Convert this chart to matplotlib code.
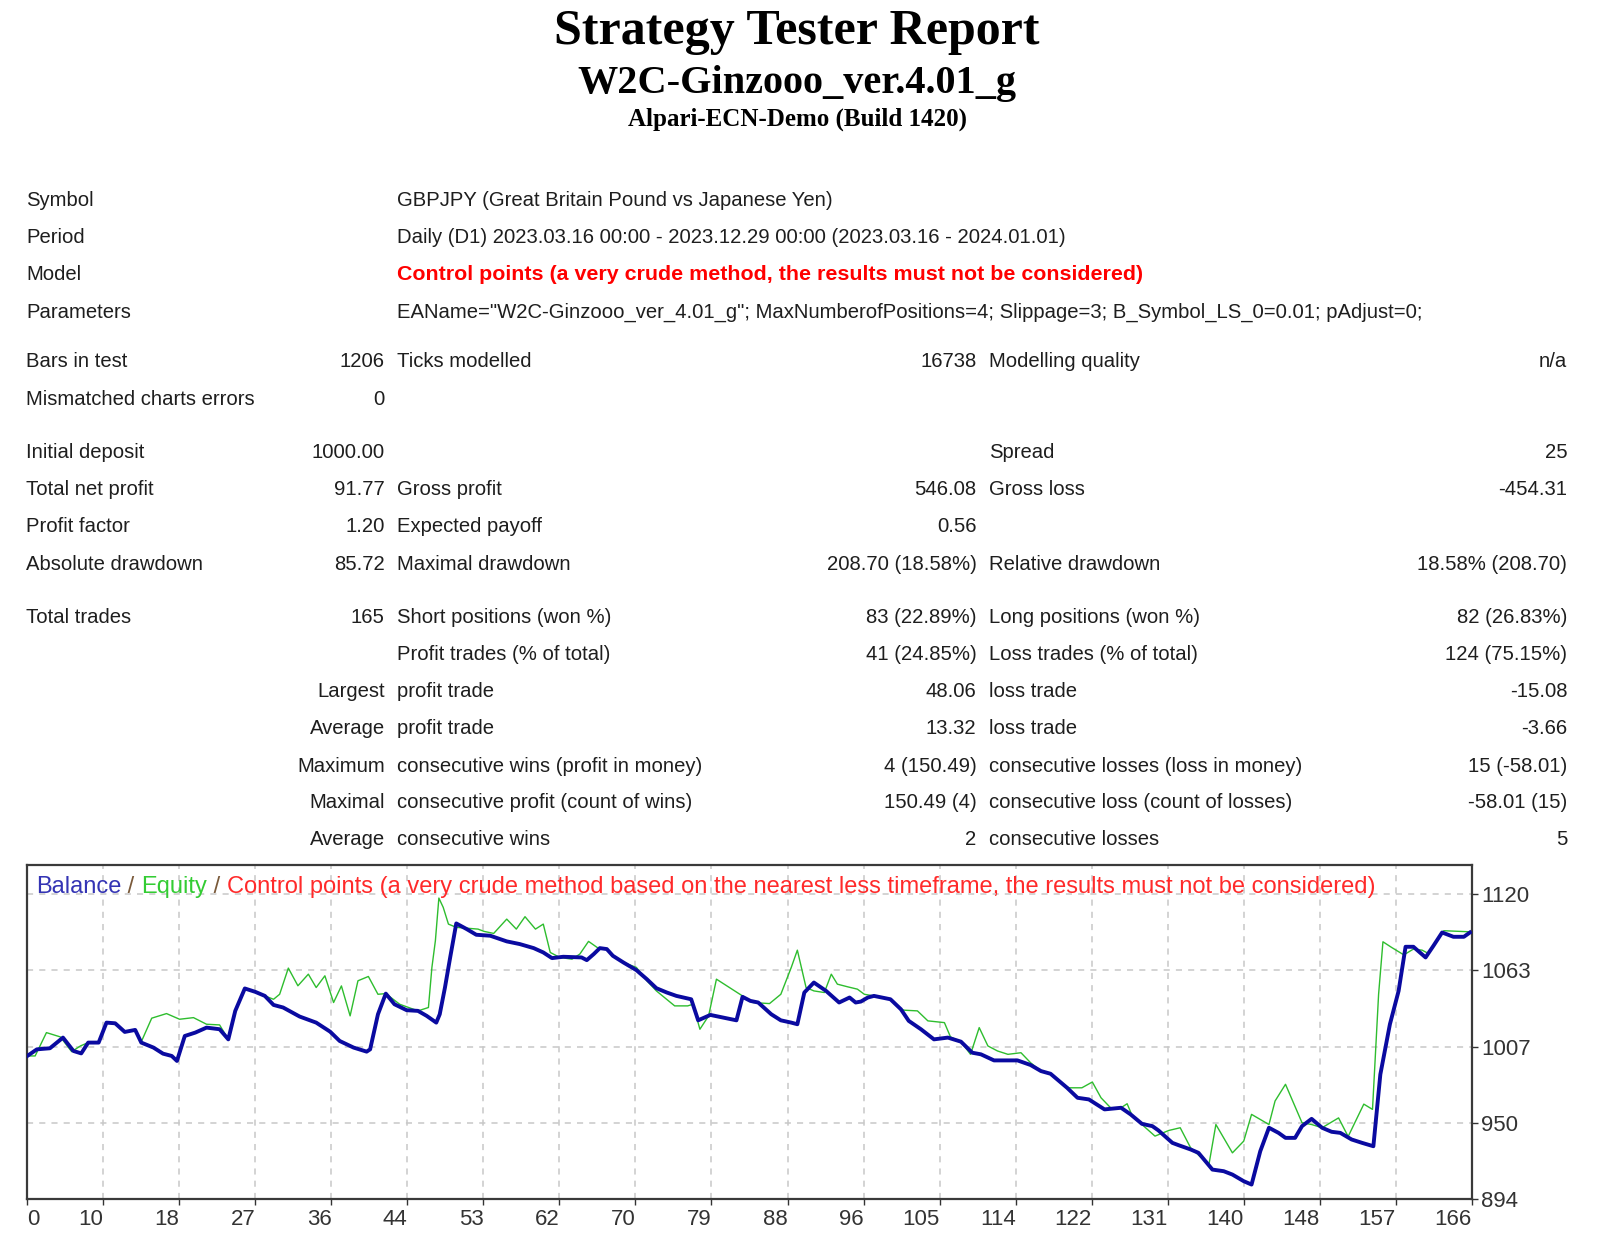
import numpy as np
import matplotlib
matplotlib.use("Agg")
import matplotlib.pyplot as plt

# --- report values -------------------------------------------------------
title_lines = ["Strategy Tester Report", "W2C-Ginzooo_ver.4.01_g", "Alpari-ECN-Demo (Build 1420)"]

info_labels = ["Symbol", "Period", "Model", "Parameters"]
info_values = [
    "GBPJPY (Great Britain Pound vs Japanese Yen)",
    "Daily (D1) 2023.03.16 00:00 - 2023.12.29 00:00 (2023.03.16 - 2024.01.01)",
    "Control points (a very crude method, the results must not be considered)",
    'EAName="W2C-Ginzooo_ver_4.01_g"; MaxNumberofPositions=4; Slippage=3; B_Symbol_LS_0=0.01; pAdjust=0;',
]

# each row: label1, value1, label2, value2, label3, value3
stat_rows = [
    ["Bars in test", "1206", "Ticks modelled", "16738", "Modelling quality", "n/a"],
    ["Mismatched charts errors", "0", "", "", "", ""],
    ["Initial deposit", "1000.00", "", "", "Spread", "25"],
    ["Total net profit", "91.77", "Gross profit", "546.08", "Gross loss", "-454.31"],
    ["Profit factor", "1.20", "Expected payoff", "0.56", "", ""],
    ["Absolute drawdown", "85.72", "Maximal drawdown", "208.70 (18.58%)", "Relative drawdown", "18.58% (208.70)"],
    ["Total trades", "165", "Short positions (won %)", "83 (22.89%)", "Long positions (won %)", "82 (26.83%)"],
    ["", "", "Profit trades (% of total)", "41 (24.85%)", "Loss trades (% of total)", "124 (75.15%)"],
    ["", "Largest", "profit trade", "48.06", "loss trade", "-15.08"],
    ["", "Average", "profit trade", "13.32", "loss trade", "-3.66"],
    ["", "Maximum", "consecutive wins (profit in money)", "4 (150.49)", "consecutive losses (loss in money)", "15 (-58.01)"],
    ["", "Maximal", "consecutive profit (count of wins)", "150.49 (4)", "consecutive loss (count of losses)", "-58.01 (15)"],
    ["", "Average", "consecutive wins", "2", "consecutive losses", "5"],
]

# --- balance / equity curves (trade number, money) -------------------------
balance_x = [0, 1.1, 2.6, 4.1, 5.3, 6.2, 7.0, 8.2, 9.1, 10.1, 11.2, 12.4, 13.1, 14.5, 15.6, 16.6, 17.2,
             18.1, 19.3, 20.6, 22.1, 23.1, 23.9, 25.0, 26.2, 27.3, 28.3, 29.4, 31.3, 33.2, 34.8, 35.9,
             37.5, 39.0, 39.4, 40.3, 41.2, 42.2, 43.6, 44.9, 45.9, 47.0, 47.4, 48.0, 48.6, 49.3, 50.5,
             51.6, 53.2, 55.1, 56.6, 58.2, 59.3, 60.3, 61.6, 63.7, 64.3, 65.1, 65.8, 66.6, 67.3, 68.5,
             70.0, 71.2, 72.3, 73.5, 74.6, 76.3, 77.1, 78.5, 80.0, 81.5, 82.2, 83.1, 84.0, 85.5, 86.6,
             87.8, 88.5, 89.3, 90.4, 91.8, 93.3, 94.5, 95.2, 95.8, 96.6, 97.3, 99.2, 100.4, 101.3, 102.7,
             104.2, 105.8, 107.3, 108.6, 109.6, 111.1, 113.8, 115.3, 116.5, 117.6, 118.8, 119.5, 120.7,
             122.0, 123.8, 125.7, 126.8, 128.1, 129.3, 130.0, 131.6, 132.3, 133.7, 134.6, 136.2, 137.5,
             138.5, 139.8, 140.7, 141.7, 142.7, 143.8, 144.6, 145.7, 146.5, 147.6, 148.8, 149.9, 150.9,
             152.2, 153.4, 154.7, 155.5, 156.6, 157.6, 158.4, 159.3, 160.7, 161.6, 162.6, 163.9, 165.1, 165.8]
balance_y = [1000.0, 1004.9, 1005.7, 1013.6, 1003.7, 1001.9, 1009.9, 1009.9, 1024.7, 1024.2, 1017.8, 1019.3,
             1009.9, 1006.2, 1001.7, 1000.0, 996.3, 1014.8, 1017.3, 1021.0, 1019.8, 1012.3, 1033.4, 1050.0,
             1047.5, 1044.5, 1037.8, 1035.9, 1029.2, 1024.7, 1018.0, 1011.1, 1006.2, 1003.2, 1004.9, 1030.9,
             1046.2, 1038.3, 1033.9, 1033.4, 1029.7, 1024.7, 1030.9, 1050.7, 1073.0, 1098.2, 1094.0, 1089.8,
             1089.1, 1084.9, 1082.9, 1079.9, 1076.7, 1072.5, 1073.5, 1073.0, 1071.0, 1075.5, 1079.9, 1079.2,
             1074.2, 1069.3, 1063.6, 1056.9, 1050.2, 1047.0, 1044.5, 1042.0, 1026.4, 1030.4, 1028.4, 1026.4,
             1043.8, 1040.8, 1039.6, 1030.9, 1026.4, 1024.7, 1023.5, 1047.0, 1054.4, 1048.2, 1039.6, 1043.3,
             1039.6, 1040.3, 1043.3, 1044.5, 1042.0, 1034.6, 1026.0, 1019.8, 1012.3, 1013.6, 1010.6, 1002.4,
             1001.2, 996.7, 996.7, 993.3, 988.8, 986.8, 980.2, 976.4, 969.0, 967.8, 960.4, 961.6, 956.7,
             949.7, 948.0, 944.8, 935.6, 933.9, 930.7, 928.2, 915.8, 914.6, 912.1, 907.2, 904.7, 929.4,
             946.8, 943.0, 939.3, 939.3, 948.0, 953.4, 946.8, 943.8, 943.0, 938.1, 935.6, 933.1, 986.3,
             1023.5, 1048.2, 1080.9, 1080.9, 1073.0, 1081.6, 1091.5, 1088.3, 1088.3, 1091.5]

equity_x = [0, 0.9, 2.2, 3.8, 5.1, 6.1, 7.0, 8.2, 9.1, 10.1, 11.2, 12.4, 13.1, 14.3, 16.0, 17.5, 19.1, 20.6,
            22.1, 23.1, 23.9, 25.0, 26.2, 27.3, 28.3, 29.0, 30.0, 31.1, 32.3, 33.2, 34.2, 35.2, 36.1, 37.1,
            38.0, 39.2, 40.3, 41.2, 42.8, 44.9, 46.1, 46.5, 46.9, 47.3, 47.8, 48.4, 49.3, 51.8, 52.5, 53.6,
            55.1, 56.2, 57.2, 58.4, 59.3, 60.1, 61.2, 62.6, 63.5, 64.5, 65.6, 66.6, 67.3, 68.5, 70.0, 71.2,
            72.3, 74.4, 75.9, 76.5, 77.3, 78.3, 79.2, 80.4, 81.9, 83.4, 85.3, 86.6, 87.8, 88.5, 89.5, 90.4,
            91.6, 92.4, 93.1, 94.3, 95.4, 96.2, 97.3, 99.2, 100.4, 100.8, 102.3, 103.5, 105.4, 106.1, 107.3,
            108.4, 109.4, 110.4, 111.5, 112.7, 114.2, 115.3, 116.5, 117.6, 118.8, 119.7, 121.2, 122.4, 123.4,
            124.5, 125.7, 126.4, 127.0, 128.1, 129.6, 131.2, 132.5, 133.7, 135.8, 136.6, 138.5, 139.8, 140.7,
            142.7, 143.4, 144.6, 146.5, 147.6, 148.8, 150.7, 151.8, 153.6, 154.6, 155.3, 155.8, 156.8, 158.2,
            159.3, 160.3, 161.0, 162.8, 165.8]
equity_y = [1000.0, 1000.0, 1017.3, 1014.1, 1003.2, 1007.4, 1009.9, 1009.9, 1024.7, 1024.2, 1017.8, 1019.3,
            1010.5, 1028.0, 1031.4, 1027.2, 1028.4, 1023.5, 1023.0, 1012.3, 1033.4, 1050.0, 1047.5, 1044.5,
            1042.0, 1045.7, 1065.1, 1052.0, 1060.6, 1050.7, 1059.4, 1039.6, 1051.9, 1029.7, 1055.7, 1058.9,
            1045.7, 1046.2, 1038.3, 1033.4, 1035.9, 1065.6, 1085.4, 1117.0, 1110.1, 1097.7, 1095.3, 1094.0,
            1092.3, 1090.8, 1101.4, 1094.0, 1103.2, 1094.0, 1097.7, 1076.7, 1073.0, 1071.7, 1075.5, 1084.9,
            1079.9, 1079.2, 1074.2, 1069.3, 1065.6, 1055.7, 1048.2, 1037.1, 1037.1, 1038.3, 1019.8, 1029.7,
            1056.9, 1051.9, 1045.7, 1039.6, 1038.8, 1045.7, 1065.6, 1078.4, 1050.7, 1048.2, 1047.0, 1060.6,
            1053.2, 1051.2, 1049.5, 1045.7, 1044.5, 1042.0, 1034.6, 1033.9, 1033.4, 1026.0, 1024.7, 1014.1,
            1010.6, 1001.2, 1021.0, 1007.4, 1003.7, 1001.2, 1002.4, 995.0, 988.8, 986.8, 980.2, 976.4, 976.4,
            980.7, 969.0, 961.6, 961.6, 964.6, 955.4, 949.2, 940.6, 944.8, 946.8, 931.9, 919.5, 949.2, 928.2,
            936.9, 956.7, 949.2, 966.6, 979.0, 950.5, 949.2, 946.8, 954.1, 940.3, 964.3, 960.4, 1045.7, 1084.6,
            1080.4, 1074.9, 1079.2, 1078.4, 1076.0, 1092.8, 1092.0]

x_tick_labels = ["0", "10", "18", "27", "36", "44", "53", "62", "70", "79", "88", "96", "105",
                 "114", "122", "131", "140", "148", "157", "166"]
y_ticks = [894, 950.5, 1007, 1063.5, 1120]
y_tick_labels = ["894", "950", "1007", "1063", "1120"]

W, H = 1600, 1243
TEXT = "#1e1e1e"
SANS = "Liberation Sans"


def fx(x):
    return x / W


def fy(y):
    return 1 - y / H


fig = plt.figure(figsize=(W / 100, H / 100), dpi=100)
fig.patch.set_facecolor("white")

# --- header --------------------------------------------------------------
fig.text(fx(797), fy(32), title_lines[0], family="Liberation Serif", weight="bold",
         fontsize=36, ha="center", va="center", color="black")
fig.text(fx(797), fy(83), title_lines[1], family="Liberation Serif", weight="bold",
         fontsize=29, ha="center", va="center", color="black")
fig.text(fx(797), fy(119), title_lines[2], family="Liberation Serif", weight="bold",
         fontsize=18, ha="center", va="center", color="black")

# --- table ---------------------------------------------------------------
c1_left, c1_right, c2_left, c2_right, c3_left, c3_right = 26.5, 384.7, 397, 976.5, 988.8, 1567.3
fs = 14.6

info_y = [201, 237.7, 274.4, 312.2]
for y, lab, val in zip(info_y, info_labels, info_values):
    fig.text(fx(c1_left), fy(y), lab, family=SANS, fontsize=fs, va="center", color=TEXT)
    if lab == "Model":
        fig.text(fx(c2_left), fy(y), val, family=SANS, fontsize=15.4, va="center",
                 color="#ff0000", weight="bold")
    else:
        fig.text(fx(c2_left), fy(y), val, family=SANS, fontsize=fs, va="center", color=TEXT)

stat_y = [361.2, 399, 452, 489.8, 526.5, 564.2, 617.3, 654, 691.8, 728.5, 766.3, 803, 839.7]
cols = [(c1_left, "left"), (c1_right, "right"), (c2_left, "left"),
        (c2_right, "right"), (c3_left, "left"), (c3_right, "right")]
for y, row in zip(stat_y, stat_rows):
    for (x, ha), txt in zip(cols, row):
        if txt:
            fig.text(fx(x), fy(y), txt, family=SANS, fontsize=fs, ha=ha, va="center", color=TEXT)

# --- chart ---------------------------------------------------------------
ax = fig.add_axes([fx(27.3), fy(1199), fx(1471.7 - 27.3), (1199 - 865) / H])
ax.plot(equity_x, equity_y, color="#2ebd2e", lw=1.0, zorder=3)
ax.plot(balance_x, balance_y, color="#0a0aa0", lw=2.8, zorder=4)

ax.set_xlim(0, 166)
ax.set_ylim(894, 1141.5)
xt = np.linspace(0, 166, len(x_tick_labels))
ax.set_xticks(xt)
ax.set_xticklabels(x_tick_labels)
for i, t in enumerate(ax.get_xticklabels()):
    t.set_horizontalalignment("left" if i == 0 else "right")
ax.set_yticks(y_ticks)
ax.set_yticklabels(y_tick_labels)
ax.yaxis.tick_right()
ax.tick_params(axis="both", labelsize=16, colors="#333333", length=4, width=1, pad=3)
for t in ax.get_xticklabels() + ax.get_yticklabels():
    t.set_family(SANS)

ax.grid(True, color="#c8c8c8", lw=1.1, ls=(0, (4, 4)))
for sp in ax.spines.values():
    sp.set_color("#3a3a3a")
    sp.set_linewidth(1.6)

# legend text, chained piece by piece
pieces = [("Balance", "#3434b4"), (" / ", "#7a5a3a"), ("Equity", "#33cc33"), (" / ", "#7a5a3a"),
          ("Control points (a very crude method based on the nearest less timeframe, "
           "the results must not be considered)", "#ff2a2a")]
prev = ax.text(0.006, 0.935, pieces[0][0], transform=ax.transAxes, color=pieces[0][1],
               family=SANS, fontsize=17, va="center", ha="left", zorder=5)
for txt, col in pieces[1:]:
    prev = ax.annotate(txt, xy=(1, 0), xycoords=prev, va="bottom", ha="left",
                       color=col, family=SANS, fontsize=17, zorder=5)

fig.savefig("out.png", dpi=100, facecolor="white")
